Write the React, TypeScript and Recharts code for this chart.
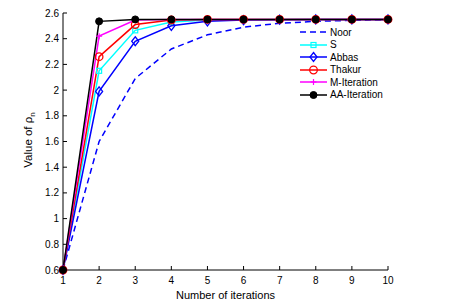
import { LineChart, Line, XAxis, YAxis, Legend } from 'recharts';

const iterations = [1, 2, 3, 4, 5, 6, 7, 8, 9, 10];
const noor = [0.6, 1.6, 2.09, 2.32, 2.43, 2.49, 2.52, 2.535, 2.543, 2.547];
const sIter = [0.6, 2.15, 2.465, 2.53, 2.545, 2.548, 2.55, 2.55, 2.55, 2.55];
const abbas = [0.6, 1.99, 2.38, 2.5, 2.535, 2.545, 2.548, 2.55, 2.55, 2.55];
const thakur = [0.6, 2.26, 2.51, 2.545, 2.55, 2.55, 2.55, 2.55, 2.55, 2.55];
const mIter = [0.6, 2.42, 2.545, 2.55, 2.55, 2.55, 2.55, 2.55, 2.55, 2.55];
const aaIter = [0.6, 2.535, 2.55, 2.55, 2.55, 2.55, 2.55, 2.55, 2.55, 2.55];

const xTicks = iterations;
const yTicks = [0.6, 0.8, 1, 1.2, 1.4, 1.6, 1.8, 2, 2.2, 2.4, 2.6];

const data = iterations.map((it, i) => ({
    it,
    noor: noor[i],
    s: sIter[i],
    abbas: abbas[i],
    thakur: thakur[i],
    m: mIter[i],
    aa: aaIter[i],
}));

type Marker = 'none' | 'square' | 'diamond' | 'circle' | 'plus' | 'dot';

const series: { key: string; name: string; color: string; marker: Marker; dash?: string }[] = [
    { key: 'noor', name: 'Noor', color: '#0000ff', marker: 'none', dash: '6 4' },
    { key: 's', name: 'S', color: '#00ffff', marker: 'square' },
    { key: 'abbas', name: 'Abbas', color: '#0000ff', marker: 'diamond' },
    { key: 'thakur', name: 'Thakur', color: '#ff0000', marker: 'circle' },
    { key: 'm', name: 'M-Iteration', color: '#ff00ff', marker: 'plus' },
    { key: 'aa', name: 'AA-Iteration', color: '#000000', marker: 'dot' },
];

const font = 'Liberation Sans, Arial, sans-serif';

function drawMarker(marker: Marker, color: string, cx: number, cy: number, key?: string) {
    switch (marker) {
        case 'square':
            return <rect key={key} x={cx - 2.5} y={cy - 2.5} width={5} height={5} fill="none" stroke={color} strokeWidth={1.2} />;
        case 'diamond':
            return <polygon key={key} points={`${cx},${cy - 4.5} ${cx + 3.5},${cy} ${cx},${cy + 4.5} ${cx - 3.5},${cy}`} fill="none" stroke={color} strokeWidth={1.3} />;
        case 'circle':
            return <circle key={key} cx={cx} cy={cy} r={3.8} fill="none" stroke={color} strokeWidth={1.3} />;
        case 'plus':
            return (
                <g key={key}>
                    <line x1={cx - 3} y1={cy} x2={cx + 3} y2={cy} stroke={color} strokeWidth={1.2} />
                    <line x1={cx} y1={cy - 3} x2={cx} y2={cy + 3} stroke={color} strokeWidth={1.2} />
                </g>
            );
        case 'dot':
            return <circle key={key} cx={cx} cy={cy} r={3.5} fill={color} stroke={color} />;
        default:
            return <g key={key} />;
    }
}

const fmt = (v: number) => `${Math.round(v * 10) / 10}`;

function renderLegend() {
    return (
        <div style={{ fontFamily: font, fontSize: 10, color: '#000' }}>
            {series.map((s) => (
                <div key={s.key} style={{ display: 'flex', alignItems: 'center', height: 12.5 }}>
                    <svg width={28} height={12}>
                        <line x1={0} y1={6} x2={27} y2={6} stroke={s.color} strokeWidth={1.5} strokeDasharray={s.dash} />
                        {drawMarker(s.marker, s.color, 13.5, 6)}
                    </svg>
                    <span style={{ marginLeft: 2 }}>{s.name}</span>
                </div>
            ))}
        </div>
    );
}

const tickStyle = { fontSize: 10, fill: '#000', fontFamily: font };

export default function App() {
    return (
        <div style={{ position: 'absolute', left: 0, top: 0, background: '#fff' }}>
            <LineChart width={450} height={308} data={data} margin={{ top: 13, right: 62, bottom: 8, left: 8 }}>
                <XAxis
                    dataKey="it"
                    type="number"
                    domain={[1, 10]}
                    ticks={xTicks}
                    tick={tickStyle}
                    tickSize={-4}
                    tickMargin={11}
                    height={30}
                    stroke="#000"
                    label={() => (
                        <text x={225.5} y={299} textAnchor="middle" fontSize={11} fill="#000" fontFamily={font}>
                            Number of iterations
                        </text>
                    )}
                />
                <XAxis
                    xAxisId="top"
                    orientation="top"
                    type="number"
                    domain={[1, 10]}
                    ticks={xTicks}
                    tickFormatter={() => ''}
                    tickSize={-4}
                    height={0}
                    stroke="#000"
                />
                <YAxis
                    type="number"
                    domain={[0.6, 2.6]}
                    ticks={yTicks}
                    tickFormatter={fmt}
                    tick={tickStyle}
                    tickSize={-4}
                    tickMargin={8}
                    width={55}
                    stroke="#000"
                    label={() => {
                        const cx = 32;
                        const cy = 140;
                        return (
                            <text
                                transform={`rotate(-90 ${cx} ${cy})`}
                                x={cx}
                                y={cy}
                                textAnchor="middle"
                                fontSize={11.5}
                                fill="#000"
                                fontFamily={font}
                            >
                                Value of ρ<tspan fontSize={8} dy={3}>n</tspan>
                            </text>
                        );
                    }}
                />
                <YAxis
                    yAxisId="right"
                    orientation="right"
                    type="number"
                    domain={[0.6, 2.6]}
                    ticks={yTicks}
                    tickFormatter={() => ''}
                    tickSize={-4}
                    width={0}
                    stroke="#000"
                />
                <Legend
                    layout="vertical"
                    align="center"
                    verticalAlign="middle"
                    content={renderLegend}
                    wrapperStyle={{ left: 300, top: 26, width: 90 }}
                />
                {series.map((s) => (
                    <Line
                        key={s.key}
                        dataKey={s.key}
                        name={s.name}
                        type="linear"
                        stroke={s.color}
                        strokeWidth={1.5}
                        strokeDasharray={s.dash}
                        dot={(p: any) => drawMarker(s.marker, s.color, p.cx, p.cy, `${s.key}-${p.index}`)}
                        activeDot={false}
                        isAnimationActive={false}
                    />
                ))}
            </LineChart>
        </div>
    );
}
